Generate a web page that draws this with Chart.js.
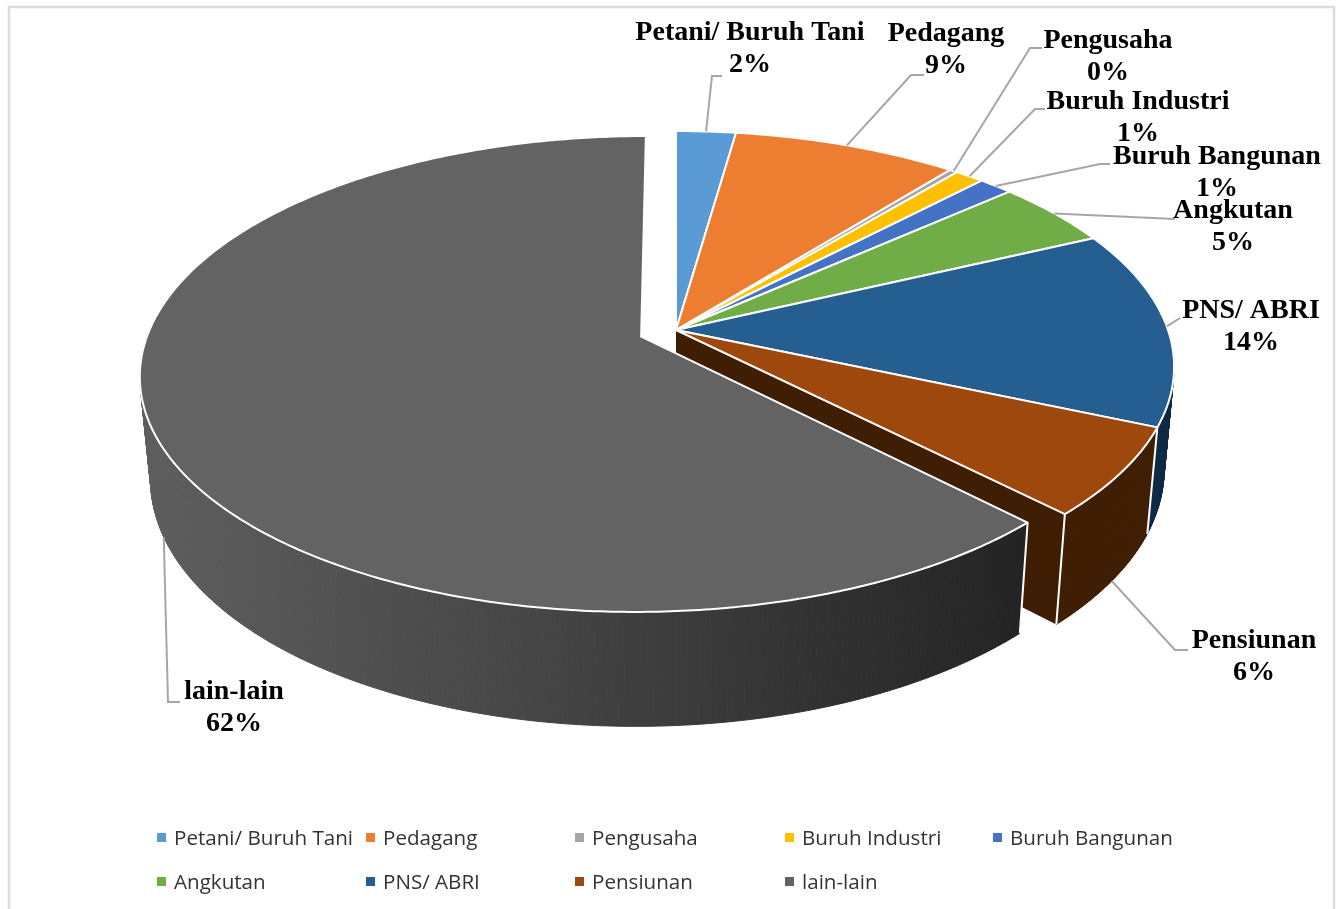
<!DOCTYPE html>
<html>
<head>
<meta charset="utf-8">
<title>Pekerjaan</title>
<script src="https://cdn.jsdelivr.net/npm/chart.js@4"></script>
<style>
  html, body { margin: 0; padding: 0; background: #fff; }
  canvas { display: block; }
</style>
</head>
<body>
<canvas id="myChart" width="1338" height="909"></canvas>
<script>
const categories = ['Petani/ Buruh Tani', 'Pedagang', 'Pengusaha', 'Buruh Industri', 'Buruh Bangunan', 'Angkutan', 'PNS/ ABRI', 'Pensiunan', 'lain-lain'];
const values = [2.25, 8.5, 0.3, 1.1, 1.3, 4.55, 13.5, 6.1, 62.4];
const explode = [0, 0, 0, 0, 0, 0, 0, 0, 30.5];

const sliceColors = ['#5b9bd5', '#ed7d31', '#a5a5a5', '#ffc000', '#4472c4', '#70ad47', '#255e91', '#9e480e', '#636363'];
const wallColors = ['#2f5f8a', '#8f4a1c', '#666666', '#9a7400', '#27467c', '#42692a', '#0f2a45', '#3f1e03', '#333333'];

// label centre x, first line y, then the bend and end of the leader line
const labelLayout = [
  { x: 750, y: 32, bend: [712, 76], end: [722, 76] },
  { x: 946, y: 33, bend: [911, 75], end: [924, 75] },
  { x: 1108, y: 40, bend: [1030, 48], end: [1042, 48] },
  { x: 1138, y: 101, bend: [1035, 109], end: [1045, 109] },
  { x: 1217, y: 156, bend: [1100, 164], end: [1110, 164] },
  { x: 1233, y: 210, bend: [1175, 219], end: [1175, 219] },
  { x: 1251, y: 310, bend: [1180, 318], end: [1180, 318] },
  { x: 1254, y: 640, bend: [1175, 650], end: [1188, 650] },
  { x: 234, y: 691, bend: [168, 702], end: [180, 702] }
];
const legendColumns = [157, 366, 575, 785, 993];
const legendRows = [838, 882];

// perspective of the tilted pie, z = 0 is the top face and z = 1 the bottom
const view = { x: 676, y: 330, c: 492, a: 230, b: 0.156, h: 104, e: 0.02 };

function project(u, v, z) {
  const w = 1 - view.b * v + view.e * z;
  return [view.x + view.c * u / w, view.y + (view.a * v + view.h * z) / w];
}

function sliceGeometry(arc) {
  const mid = (arc.startAngle + arc.endAngle) / 2;
  const d = arc.options.offset / arc.outerRadius;
  return { mid, u0: d * Math.cos(mid), v0: d * Math.sin(mid), start: arc.startAngle, end: arc.endAngle };
}

function rimPoints(g, z) {
  const pts = [];
  const steps = Math.max(2, Math.ceil((g.end - g.start) / 0.01));
  for (let i = 0; i <= steps; i++) {
    const t = g.start + (g.end - g.start) * i / steps;
    pts.push(project(g.u0 + Math.cos(t), g.v0 + Math.sin(t), z));
  }
  return pts;
}

function tracePath(ctx, pts) {
  ctx.beginPath();
  pts.forEach((p, i) => (i ? ctx.lineTo(p[0], p[1]) : ctx.moveTo(p[0], p[1])));
}

function edge(ctx, g, angle) {
  const a = project(g.u0 + Math.cos(angle), g.v0 + Math.sin(angle), 0);
  const b = project(g.u0 + Math.cos(angle), g.v0 + Math.sin(angle), 1);
  tracePath(ctx, [a, b]);
  ctx.strokeStyle = '#ffffff';
  ctx.lineWidth = 2;
  ctx.stroke();
}

// the rim is swept in small quads so the side of the pie gets its silhouette,
// the back part is always hidden by the top face
function drawWall(ctx, g, fill) {
  const top = rimPoints(g, 0);
  const bottom = rimPoints(g, 1);
  const steps = top.length - 1;
  ctx.fillStyle = fill;
  ctx.strokeStyle = fill;
  ctx.lineWidth = 1;
  for (let i = 0; i < steps; i++) {
    const t = g.start + (g.end - g.start) * i / steps;
    if (Math.sin(t) < -0.3) continue;
    tracePath(ctx, [top[i], top[i + 1], bottom[i + 1], bottom[i]]);
    ctx.closePath();
    ctx.fill();
    ctx.stroke();
  }
}

function drawTop(ctx, g, fill) {
  tracePath(ctx, [project(g.u0, g.v0, 0)].concat(rimPoints(g, 0)));
  ctx.closePath();
  ctx.fillStyle = fill;
  ctx.fill();
  ctx.strokeStyle = '#ffffff';
  ctx.lineWidth = 2;
  ctx.lineJoin = 'round';
  ctx.stroke();
}

const pie3d = {
  id: 'pie3d',
  beforeDraw(chart) {
    const ctx = chart.ctx;
    ctx.save();
    ctx.fillStyle = '#ffffff';
    ctx.fillRect(0, 0, chart.width, chart.height);
    ctx.strokeStyle = '#dcdcdc';
    ctx.lineWidth = 2.5;
    tracePath(ctx, [[9, 909], [9, 7], [1334, 7], [1334, 909]]);
    ctx.stroke();
    ctx.restore();
  },
  beforeDatasetsDraw(chart) {
    const ctx = chart.ctx;
    const arcs = chart.getDatasetMeta(0).data;
    const slices = arcs.map(sliceGeometry);
    const last = slices.length - 1;
    ctx.save();
    // walls of the slices that stay in place
    for (let i = 0; i < last; i++) drawWall(ctx, slices[i], wallColors[i]);
    const inner = slices[last - 1];
    tracePath(ctx, [
      project(0, 0, 0),
      project(Math.cos(inner.end), Math.sin(inner.end), 0),
      project(Math.cos(inner.end), Math.sin(inner.end), 1),
      project(0, 0, 1)
    ]);
    ctx.closePath();
    ctx.fillStyle = wallColors[last - 1];
    ctx.fill();
    edge(ctx, inner, inner.start);
    edge(ctx, inner, inner.end);
    for (let i = 0; i < last; i++) drawTop(ctx, slices[i], sliceColors[i]);

    // the pulled out slice goes over the rest
    const big = slices[last];
    const shade = ctx.createLinearGradient(140, 0, 1030, 0);
    shade.addColorStop(0, '#5e5e5e');
    shade.addColorStop(0.45, '#454545');
    shade.addColorStop(1, '#232323');
    drawWall(ctx, big, shade);
    edge(ctx, big, big.start);
    drawTop(ctx, big, sliceColors[last]);
    ctx.restore();
    return false;
  },
  afterDraw(chart) {
    const ctx = chart.ctx;
    const arcs = chart.getDatasetMeta(0).data;
    const total = values.reduce((s, v) => s + v, 0);
    ctx.save();
    arcs.forEach((arc, i) => {
      const g = sliceGeometry(arc);
      const l = labelLayout[i];
      // front slices have their leader on the bottom rim
      const z = Math.sin(g.mid) > 0.3 ? 1 : 0;
      const from = project(g.u0 + Math.cos(g.mid), g.v0 + Math.sin(g.mid), z);
      tracePath(ctx, [from, l.bend, l.end]);
      ctx.strokeStyle = '#a6a6a6';
      ctx.lineWidth = 2;
      ctx.stroke();
    });
    ctx.fillStyle = '#000000';
    ctx.font = 'bold 28px "Liberation Serif"';
    ctx.textAlign = 'center';
    ctx.textBaseline = 'middle';
    categories.forEach((name, i) => {
      const l = labelLayout[i];
      ctx.fillText(name, l.x, l.y + 1);
      ctx.fillText(Math.round(values[i] / total * 100) + '%', l.x, l.y + 33);
    });

    // legend on a fixed grid
    ctx.font = '20.6px "Open Sans"';
    ctx.textAlign = 'left';
    categories.forEach((name, i) => {
      const col = legendColumns[i % legendColumns.length];
      const row = legendRows[Math.floor(i / legendColumns.length)];
      ctx.fillStyle = sliceColors[i];
      ctx.fillRect(col, row - 5, 9, 9);
      ctx.fillStyle = '#333333';
      ctx.fillText(name, col + 17, row + 1);
    });
    ctx.restore();
  }
};

new Chart(document.getElementById('myChart').getContext('2d'), {
  type: 'pie',
  data: {
    labels: categories,
    datasets: [{
      data: values,
      backgroundColor: sliceColors,
      borderColor: '#ffffff',
      offset: explode
    }]
  },
  options: {
    responsive: false,
    animation: false,
    radius: 400,
    rotation: 0,
    plugins: {
      legend: { display: false },
      tooltip: { enabled: false }
    }
  },
  plugins: [pie3d]
});
</script>
</body>
</html>
